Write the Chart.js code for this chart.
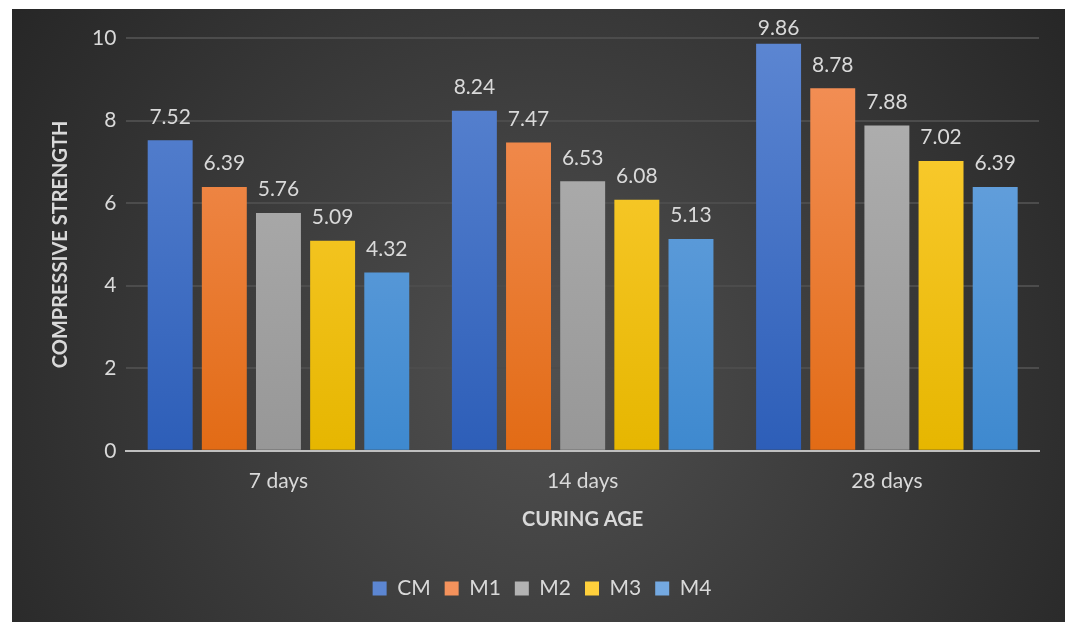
<!DOCTYPE html>
<html lang="en">
<head>
    <meta charset="UTF-8">
    <title>Compressive Strength</title>
    <script src="https://cdn.jsdelivr.net/npm/chart.js"></script>
    <style>
        body {
            margin: 0;
            background: #fff;
        }

        .chart-box {
            position: absolute;
            left: 12px;
            top: 9px;
            width: 1053px;
            height: 613px;
        }
    </style>
</head>
<body>
    <div class="chart-box">
        <canvas id="strengthChart"></canvas>
    </div>

    <script>
        const categories = ['7 days', '14 days', '28 days'];
        const seriesNames = ['CM', 'M1', 'M2', 'M3', 'M4'];
        const cmValues = [7.52, 8.24, 9.86];
        const m1Values = [6.39, 7.47, 8.78];
        const m2Values = [5.76, 6.53, 7.88];
        const m3Values = [5.09, 6.08, 7.02];
        const m4Values = [4.32, 5.13, 6.39];
        const yTicks = [0, 2, 4, 6, 8, 10];

        const allValues = [cmValues, m1Values, m2Values, m3Values, m4Values];
        // top / bottom colours of each bar gradient
        const barColors = [
            ['#5c86d2', '#2d5eb8'],
            ['#f4925c', '#e26b15'],
            ['#b3b3b3', '#979797'],
            ['#ffd03c', '#e6b600'],
            ['#74a9e1', '#3e89cf']
        ];
        const textColor = '#d9d9d9';
        const fontFamily = 'Lato, "Open Sans", sans-serif';
        const fontSize = 21;

        function barGradient(i) {
            return function (ctx) {
                const area = ctx.chart.chartArea;
                if (!area) return barColors[i][0];
                const g = ctx.chart.ctx.createLinearGradient(0, area.top, 0, area.bottom);
                g.addColorStop(0, barColors[i][0]);
                g.addColorStop(1, barColors[i][1]);
                return g;
            };
        }

        // dark radial background like the original
        const backgroundPlugin = {
            id: 'darkBackground',
            beforeDraw(chart) {
                const c = chart.ctx;
                const w = chart.width, h = chart.height;
                const g = c.createRadialGradient(w * 0.5, h * 0.6, 0, w * 0.5, h * 0.6, w * 0.62);
                g.addColorStop(0, '#505050');
                g.addColorStop(1, '#262626');
                c.save();
                c.fillStyle = g;
                c.fillRect(0, 0, w, h);
                c.restore();
            }
        };

        // value labels on top of each bar (kept inside the top edge)
        const valueLabelPlugin = {
            id: 'valueLabels',
            afterDatasetsDraw(chart) {
                const c = chart.ctx;
                c.save();
                c.fillStyle = textColor;
                c.font = fontSize + 'px ' + fontFamily;
                c.textAlign = 'center';
                c.textBaseline = 'bottom';
                chart.data.datasets.forEach((ds, i) => {
                    chart.getDatasetMeta(i).data.forEach((bar, j) => {
                        const y = Math.max(bar.y - 13, 30);
                        c.fillText(ds.data[j].toFixed(2), bar.x, y);
                    });
                });
                c.restore();
            }
        };

        const datasets = seriesNames.map((name, i) => ({
            label: name,
            data: allValues[i],
            backgroundColor: barGradient(i),
            barPercentage: 0.83,
            categoryPercentage: 0.89
        }));

        new Chart(document.getElementById('strengthChart'), {
            type: 'bar',
            data: {
                labels: categories,
                datasets: datasets
            },
            options: {
                responsive: true,
                maintainAspectRatio: false,
                animation: false,
                layout: {
                    padding: { top: 29, right: 26, left: 33, bottom: 13 }
                },
                plugins: {
                    legend: {
                        position: 'bottom',
                        labels: {
                            color: textColor,
                            font: { family: fontFamily, size: fontSize },
                            boxWidth: 14,
                            boxHeight: 14,
                            padding: 14,
                            generateLabels(chart) {
                                return chart.data.datasets.map((ds, i) => ({
                                    text: ds.label,
                                    fillStyle: barColors[i][0],
                                    strokeStyle: barColors[i][0],
                                    lineWidth: 0,
                                    fontColor: textColor,
                                    datasetIndex: i
                                }));
                            }
                        }
                    },
                    tooltip: { enabled: false }
                },
                scales: {
                    x: {
                        grid: { display: false },
                        border: { color: '#bfbfbf', width: 2 },
                        ticks: {
                            color: textColor,
                            font: { family: fontFamily, size: fontSize },
                            padding: 10
                        },
                        title: {
                            display: true,
                            text: 'CURING AGE',
                            color: textColor,
                            font: { family: fontFamily, size: 20, weight: 'bold' },
                            padding: { top: 4, bottom: 32 }
                        }
                    },
                    y: {
                        min: 0,
                        max: 10,
                        afterBuildTicks(axis) {
                            axis.ticks = yTicks.map(v => ({ value: v }));
                        },
                        grid: {
                            color: '#4c4c4c',
                            lineWidth: 2,
                            drawTicks: false
                        },
                        border: { display: false },
                        ticks: {
                            color: textColor,
                            font: { family: fontFamily, size: fontSize },
                            padding: 10
                        },
                        title: {
                            display: true,
                            text: 'COMPRESSIVE STRENGTH',
                            color: textColor,
                            font: { family: fontFamily, size: 20, weight: 'bold' },
                            padding: { bottom: 9 }
                        }
                    }
                }
            },
            plugins: [backgroundPlugin, valueLabelPlugin]
        });
    </script>
</body>
</html>
